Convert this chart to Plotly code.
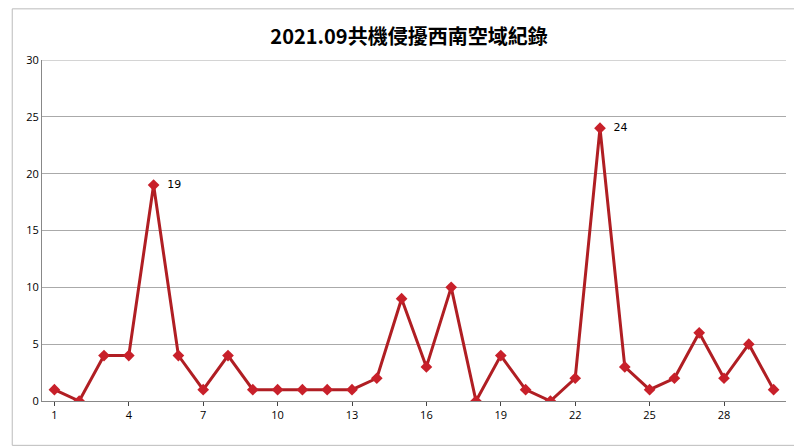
import plotly.graph_objects as go

days = list(range(1, 31))
counts = [1, 0, 4, 4, 19, 4, 1, 4, 1, 1, 1, 1, 1, 2, 9, 3, 10, 0, 4, 1, 0, 2, 24, 3, 1, 2, 6, 2, 5, 1]
tick_days = [1, 4, 7, 10, 13, 16, 19, 22, 25, 28]
labels = ["  " + str(v) if v in (19, 24) else "" for v in counts]

fig = go.Figure(go.Scatter(
    x=days, y=counts, mode="lines+markers+text",
    line=dict(color="#B01E23", width=3),
    marker=dict(symbol="diamond", size=9, color="#C8202A"),
    text=labels, textposition="middle right",
    textfont=dict(size=11, color="black", family="DejaVu Sans"),
))
fig.update_layout(
    width=802, height=448,
    margin=dict(l=34, r=24, t=52, b=55),
    paper_bgcolor="white", plot_bgcolor="white",
    title=dict(text="<b>2021.09共機侵擾西南空域紀錄</b>", x=0.5, y=0.95,
               font=dict(size=20, color="black", family="Noto Sans CJK TC")),
    showlegend=False,
    shapes=[dict(type="rect", xref="paper", yref="paper", x0=-0.04, x1=1.025, y0=-0.13, y1=1.15,
                 line=dict(color="#BBBBBB", width=1)),
            dict(type="line", xref="paper", yref="y", x0=0, x1=1, y0=30, y1=30,
                 line=dict(color="#AAAAAA", width=1))],
    xaxis=dict(range=[0.5, 30.5], tickvals=tick_days, showgrid=False,
               showline=True, linecolor="#888888", ticks="outside", ticklen=4,
               tickfont=dict(size=11, color="black")),
    yaxis=dict(range=[0, 30], dtick=5, showgrid=True, gridcolor="#AAAAAA",
               showline=True, linecolor="#888888", zeroline=False,
               tickfont=dict(size=11, color="black")),
)
fig.write_html("out.html")
